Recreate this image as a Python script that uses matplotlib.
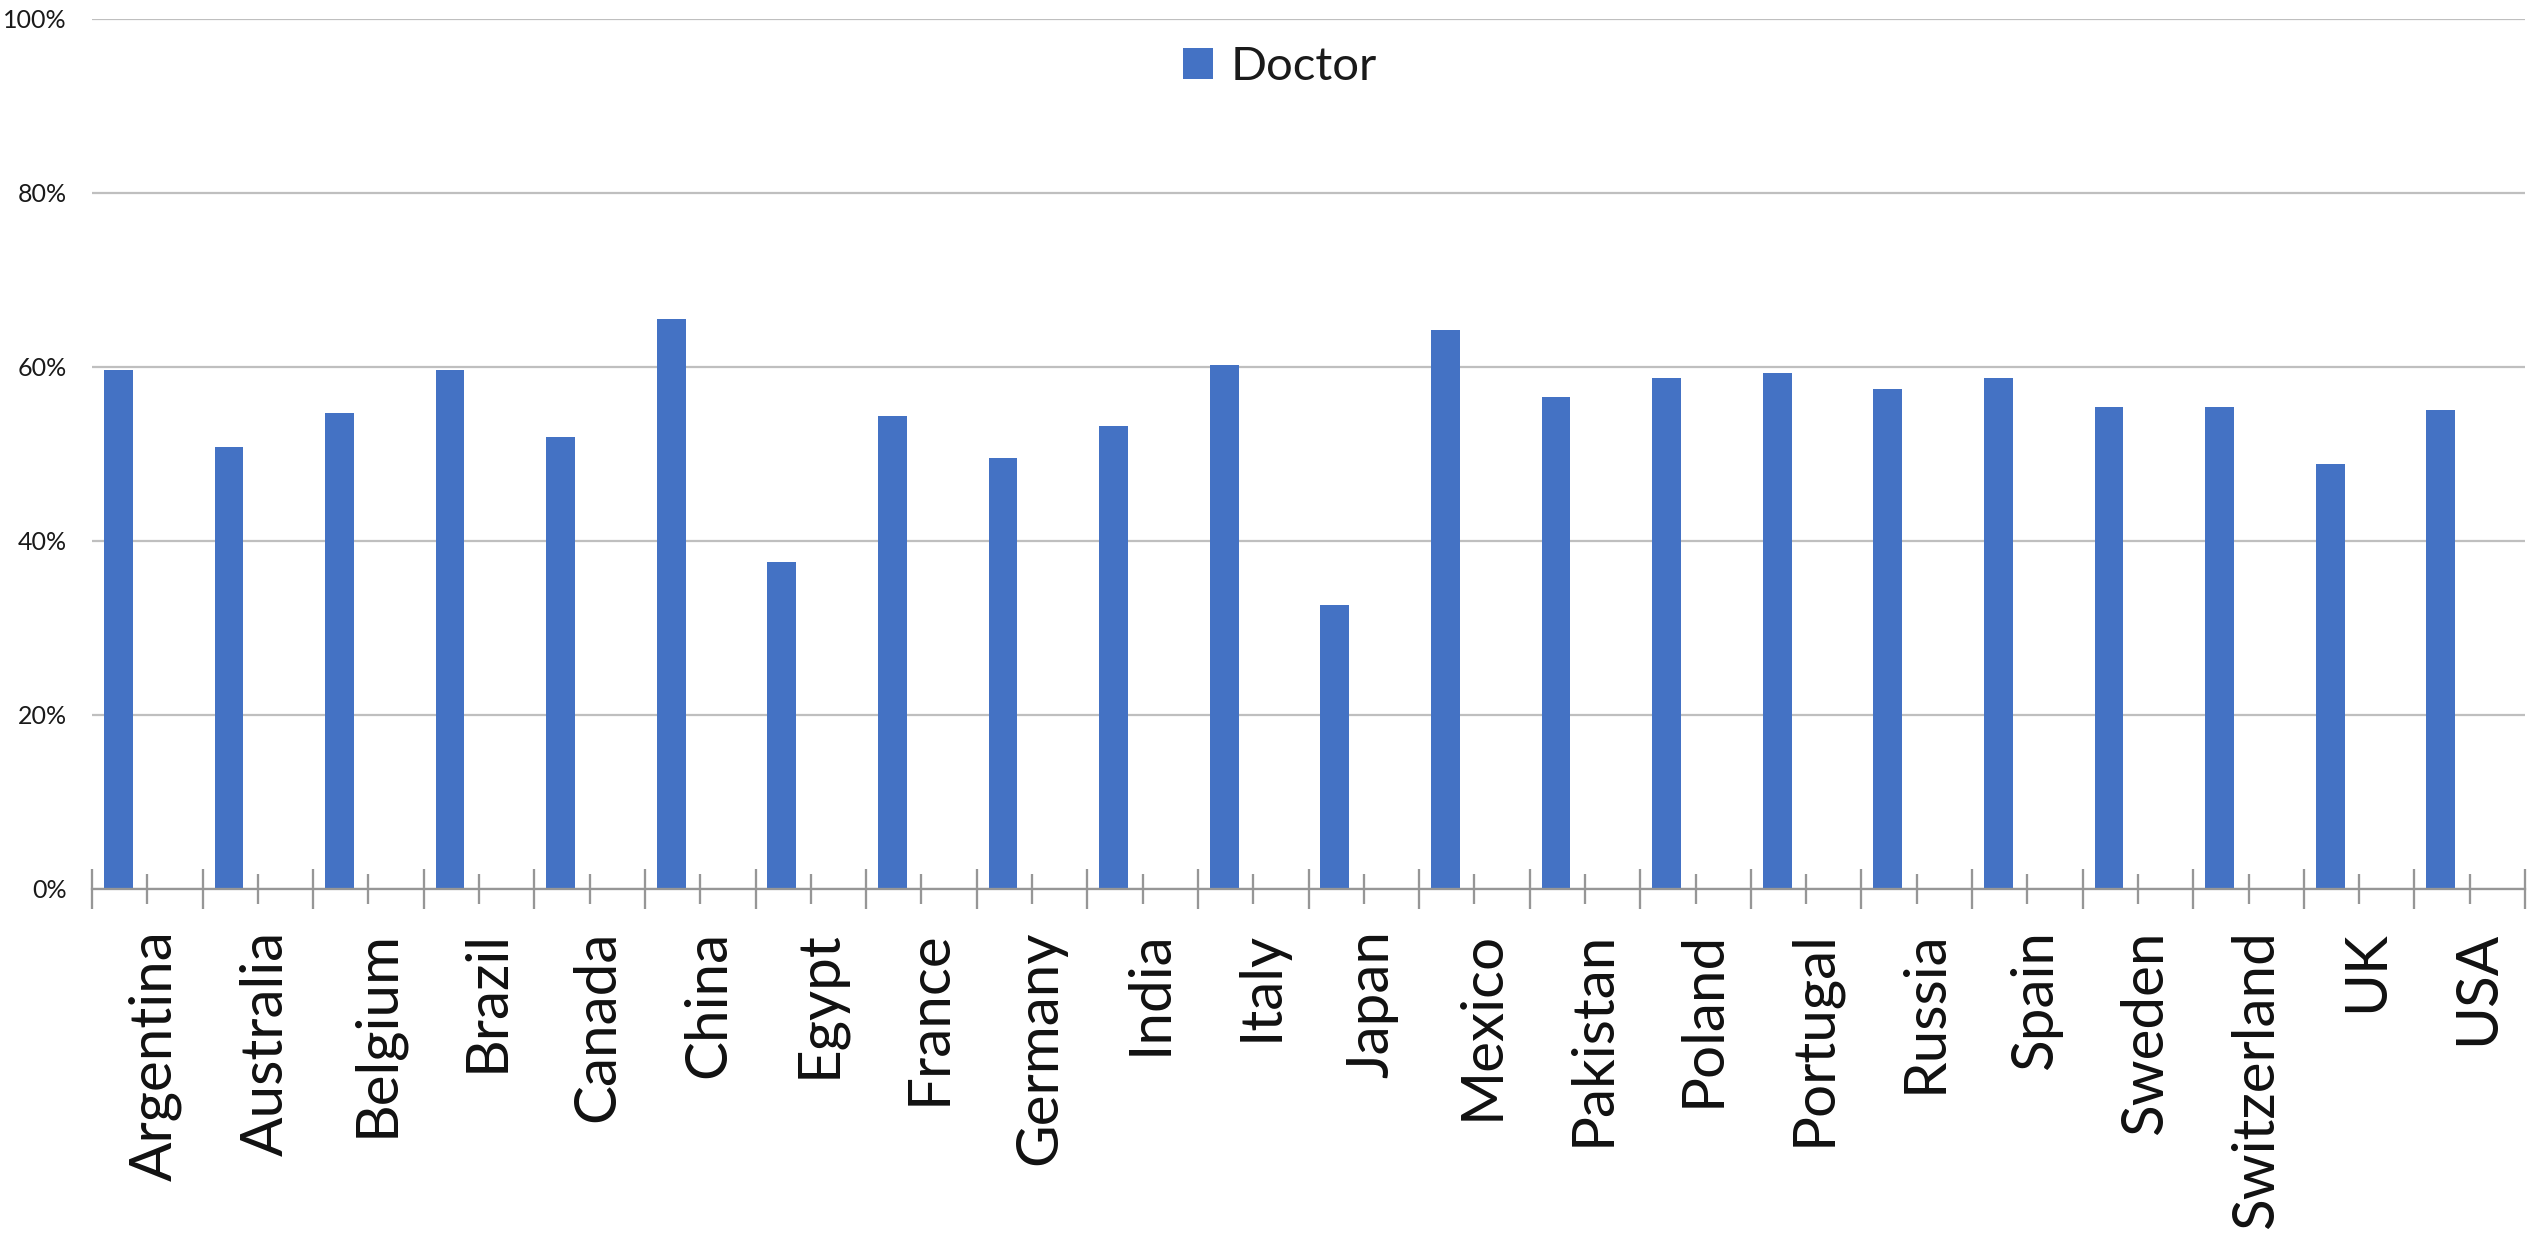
import matplotlib
matplotlib.use("Agg")
import matplotlib.pyplot as plt
import matplotlib.transforms as mtransforms
import numpy as np
from matplotlib.ticker import FixedLocator, PercentFormatter

countries = ["Argentina", "Australia", "Belgium", "Brazil", "Canada", "China",
             "Egypt", "France", "Germany", "India", "Italy", "Japan", "Mexico",
             "Pakistan", "Poland", "Portugal", "Russia", "Spain", "Sweden",
             "Switzerland", "UK", "USA"]
doctor = [59.7, 50.8, 54.7, 59.7, 52.0, 65.5, 37.6, 54.4, 49.5, 53.2, 60.2,
          32.6, 64.2, 56.6, 58.7, 59.3, 57.5, 58.7, 55.4, 55.4, 48.9, 55.0]
yticks = [0, 20, 40, 60, 80, 100]
series_name = "Doctor"

plt.rcParams['font.family'] = ['Lato', 'DejaVu Sans']

W, H = 2527, 1234
fig = plt.figure(figsize=(W / 100, H / 100), dpi=100)
left, right = 92 / W, 2525 / W
bottom, top = (H - 889) / H, (H - 19) / H
ax = fig.add_axes([left, bottom, right - left, top - bottom])

x = np.arange(len(countries))
bar_color = "#4472C4"
ax.bar(x - 0.262, doctor, width=0.26, color=bar_color, label=series_name, zorder=3)

ax.set_xlim(-0.5, len(countries) - 0.5)
ax.set_ylim(0, 100)

# gridlines
ax.set_yticks(yticks)
ax.yaxis.set_major_formatter(PercentFormatter(decimals=0))
ax.yaxis.grid(True, color="#BFBFBF", linewidth=1.6, zorder=0)
ax.tick_params(axis='y', length=0, pad=18, labelsize=18, labelcolor="#1a1a1a")

# x axis: boundary ticks (major) and center ticks (minor, labelled)
tick_gray = "#969696"
ax.xaxis.set_major_locator(FixedLocator(np.arange(-0.5, len(countries), 1.0)))
ax.set_xticklabels([], minor=False)
ax.set_xticks(x, minor=True)
ax.set_xticklabels(countries, minor=True, rotation=90, fontsize=42, color="#111111")
ax.tick_params(axis='x', which='major', direction='inout', length=28.8, width=1.65,
               color=tick_gray)
ax.tick_params(axis='x', which='minor', direction='inout', length=21.6, width=1.65,
               color=tick_gray, pad=19)
shift = mtransforms.ScaledTranslation(8 / 100, 0, fig.dpi_scale_trans)
for lab in ax.get_xticklabels(minor=True):
    lab.set_transform(lab.get_transform() + shift)

for s in ["left", "right", "top"]:
    ax.spines[s].set_visible(False)
ax.spines["bottom"].set_color(tick_gray)
ax.spines["bottom"].set_linewidth(1.65)
ax.spines["bottom"].set_zorder(4)

leg = fig.legend(loc="center left", bbox_to_anchor=(1183 / W, 1 - 67 / H),
                 frameon=False, fontsize=34, handlelength=0.64, handleheight=0.64,
                 handletextpad=0.36, borderpad=0, borderaxespad=0)
for t in leg.get_texts():
    t.set_color("#1a1a1a")

fig.savefig("out.png", dpi=100)
